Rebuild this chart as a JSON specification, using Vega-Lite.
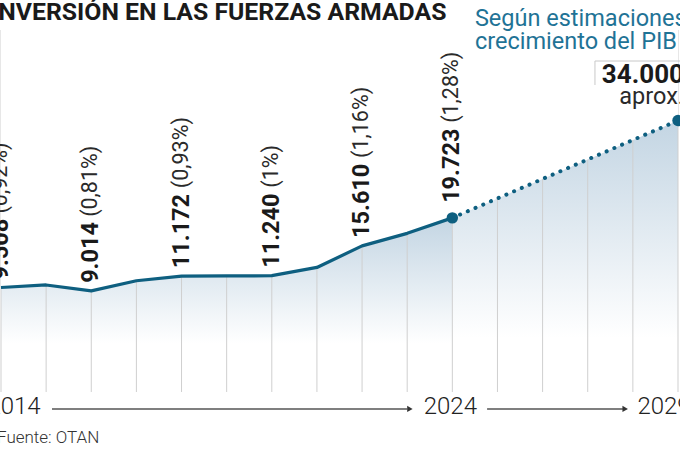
{
  "$schema": "https://vega.github.io/schema/vega-lite/v6.json",
  "width": 677,
  "height": 420,
  "autosize": {"type": "none"},
  "padding": {"left": 1, "top": 30, "right": 2, "bottom": 0},
  "background": "#ffffff",
  "config": {"view": {"stroke": null}, "text": {"font": "Roboto"}},
  "datasets": {
    "series": [
      {"year": 2014, "value": 9508, "num": "9.508", "pct": "(0,92%)"},
      {"year": 2015, "value": 9880},
      {"year": 2016, "value": 9014, "num": "9.014", "pct": "(0,81%)"},
      {"year": 2017, "value": 10500},
      {"year": 2018, "value": 11172, "num": "11.172", "pct": "(0,93%)"},
      {"year": 2019, "value": 11200},
      {"year": 2020, "value": 11240, "num": "11.240", "pct": "(1%)"},
      {"year": 2021, "value": 12450},
      {"year": 2022, "value": 15610, "num": "15.610", "pct": "(1,16%)"},
      {"year": 2023, "value": 17450},
      {"year": 2024, "value": 19723, "num": "19.723", "pct": "(1,28%)"},
      {"year": 2029, "value": 34000}
    ],
    "grid": [
      {"year": 2014}, {"year": 2015}, {"year": 2016}, {"year": 2017},
      {"year": 2018}, {"year": 2019}, {"year": 2020}, {"year": 2021},
      {"year": 2022}, {"year": 2023}, {"year": 2024}, {"year": 2025},
      {"year": 2026}, {"year": 2027}, {"year": 2028}, {"year": 2029}
    ],
    "one": [{}]
  },
  "layer": [
    {
      "data": {"name": "series"},
      "transform": [{"filter": "datum.year <= 2024"}],
      "mark": {"type": "area", "fill": {"gradient": "linear", "x1": 0, "y1": 0, "x2": 0, "y2": 1, "stops": [{"offset": 0, "color": "#c3d5e3"}, {"offset": 0.72, "color": "#ffffff"}]}, "opacity": 1},
      "encoding": {
        "x": {"field": "year", "type": "quantitative", "scale": {"domain": [2014, 2029], "nice": false, "zero": false}, "axis": null},
        "y": {"field": "value", "type": "quantitative", "scale": {"domain": [-14331, 47283], "nice": false, "zero": false}, "axis": null},
        "y2": {"datum": -5822}
      }
    },
    {
      "data": {"name": "series"},
      "transform": [{"filter": "datum.year >= 2024"}],
      "mark": {"type": "area", "fill": {"gradient": "linear", "x1": 0, "y1": 0, "x2": 0, "y2": 1, "stops": [{"offset": 0, "color": "#c3d5e3"}, {"offset": 0.8, "color": "#ffffff"}]}, "opacity": 1},
      "encoding": {
        "x": {"field": "year", "type": "quantitative", "scale": {"domain": [2014, 2029], "nice": false, "zero": false}, "axis": null},
        "y": {"field": "value", "type": "quantitative", "scale": {"domain": [-14331, 47283], "nice": false, "zero": false}, "axis": null},
        "y2": {"datum": -5822}
      }
    },
    {
      "data": {"name": "grid"},
      "mark": {"type": "rule", "color": "#cfcfcf", "strokeWidth": 1},
      "encoding": {
        "x": {"field": "year", "type": "quantitative", "scale": {"domain": [2014, 2029], "nice": false, "zero": false}, "axis": null},
        "y": {"datum": -5822, "type": "quantitative", "scale": {"domain": [-14331, 47283], "nice": false, "zero": false}, "axis": null},
        "y2": {"datum": 47283}
      }
    },
    {
      "data": {"name": "series"},
      "mark": {"type": "area", "color": "#ffffff", "opacity": 1},
      "encoding": {
        "x": {"field": "year", "type": "quantitative", "scale": {"domain": [2014, 2029], "nice": false, "zero": false}, "axis": null},
        "y": {"field": "value", "type": "quantitative", "scale": {"domain": [-14331, 47283], "nice": false, "zero": false}, "axis": null},
        "y2": {"datum": 47283}
      }
    },
    {
      "data": {"name": "series"},
      "transform": [{"filter": "datum.year <= 2024"}],
      "mark": {"type": "line", "color": "#0e5f80", "strokeWidth": 3.2, "strokeJoin": "round"},
      "encoding": {
        "x": {"field": "year", "type": "quantitative", "scale": {"domain": [2014, 2029], "nice": false, "zero": false}, "axis": null},
        "y": {"field": "value", "type": "quantitative", "scale": {"domain": [-14331, 47283], "nice": false, "zero": false}, "axis": null}
      }
    },
    {
      "data": {"name": "series"},
      "transform": [{"filter": "datum.year >= 2024"}],
      "mark": {"type": "line", "color": "#0e5f80", "strokeWidth": 4, "strokeCap": "round", "strokeDash": [0.1, 8.3]},
      "encoding": {
        "x": {"field": "year", "type": "quantitative", "scale": {"domain": [2014, 2029], "nice": false, "zero": false}, "axis": null},
        "y": {"field": "value", "type": "quantitative", "scale": {"domain": [-14331, 47283], "nice": false, "zero": false}, "axis": null}
      }
    },
    {
      "data": {"name": "series"},
      "transform": [{"filter": "datum.year >= 2024"}],
      "mark": {"type": "point", "filled": true, "shape": "circle", "size": 130, "color": "#0e5f80", "opacity": 1},
      "encoding": {
        "x": {"field": "year", "type": "quantitative", "scale": {"domain": [2014, 2029], "nice": false, "zero": false}, "axis": null},
        "y": {"field": "value", "type": "quantitative", "scale": {"domain": [-14331, 47283], "nice": false, "zero": false}, "axis": null}
      }
    },
    {
      "data": {"name": "series"},
      "transform": [{"filter": "datum.num != null && datum.year != 2024"}],
      "mark": {"type": "text", "angle": 270, "align": "left", "baseline": "middle", "dx": 8, "font": "Roboto", "fontSize": 23.5, "fontWeight": 700, "color": "#1a1a1a"},
      "encoding": {
        "x": {"field": "year", "type": "quantitative", "scale": {"domain": [2014, 2029], "nice": false, "zero": false}, "axis": null},
        "y": {"field": "value", "type": "quantitative", "scale": {"domain": [-14331, 47283], "nice": false, "zero": false}, "axis": null},
        "text": {"field": "num"}
      }
    },
    {
      "data": {"name": "series"},
      "transform": [{"filter": "datum.year == 2024"}],
      "mark": {"type": "text", "angle": 270, "align": "left", "baseline": "middle", "dx": 15, "font": "Roboto", "fontSize": 23.5, "fontWeight": 700, "color": "#1a1a1a"},
      "encoding": {
        "x": {"field": "year", "type": "quantitative", "scale": {"domain": [2014, 2029], "nice": false, "zero": false}, "axis": null},
        "y": {"field": "value", "type": "quantitative", "scale": {"domain": [-14331, 47283], "nice": false, "zero": false}, "axis": null},
        "text": {"field": "num"}
      }
    },
    {
      "data": {"name": "series"},
      "transform": [{"filter": "datum.num != null && datum.value < 10000"}],
      "mark": {"type": "text", "angle": 270, "align": "left", "baseline": "middle", "dx": 74, "font": "Roboto", "fontSize": 21.5, "fontWeight": 400, "color": "#2a2a2a"},
      "encoding": {
        "x": {"field": "year", "type": "quantitative", "scale": {"domain": [2014, 2029], "nice": false, "zero": false}, "axis": null},
        "y": {"field": "value", "type": "quantitative", "scale": {"domain": [-14331, 47283], "nice": false, "zero": false}, "axis": null},
        "text": {"field": "pct"}
      }
    },
    {
      "data": {"name": "series"},
      "transform": [{"filter": "datum.num != null && datum.value >= 10000 && datum.year != 2024"}],
      "mark": {"type": "text", "angle": 270, "align": "left", "baseline": "middle", "dx": 88, "font": "Roboto", "fontSize": 21.5, "fontWeight": 400, "color": "#2a2a2a"},
      "encoding": {
        "x": {"field": "year", "type": "quantitative", "scale": {"domain": [2014, 2029], "nice": false, "zero": false}, "axis": null},
        "y": {"field": "value", "type": "quantitative", "scale": {"domain": [-14331, 47283], "nice": false, "zero": false}, "axis": null},
        "text": {"field": "pct"}
      }
    },
    {
      "data": {"name": "series"},
      "transform": [{"filter": "datum.year == 2024"}],
      "mark": {"type": "text", "angle": 270, "align": "left", "baseline": "middle", "dx": 95, "font": "Roboto", "fontSize": 21.5, "fontWeight": 400, "color": "#2a2a2a"},
      "encoding": {
        "x": {"field": "year", "type": "quantitative", "scale": {"domain": [2014, 2029], "nice": false, "zero": false}, "axis": null},
        "y": {"field": "value", "type": "quantitative", "scale": {"domain": [-14331, 47283], "nice": false, "zero": false}, "axis": null},
        "text": {"field": "pct"}
      }
    },
    {
      "data": {"name": "one"},
      "mark": {"type": "text", "align": "left", "baseline": "middle", "dx": -10, "font": "Roboto", "fontSize": 24.8, "fontWeight": 700, "color": "#1a1a1a"},
      "encoding": {
        "x": {"datum": 2014, "type": "quantitative", "scale": {"domain": [2014, 2029], "nice": false, "zero": false}, "axis": null},
        "y": {"datum": 49778, "type": "quantitative", "scale": {"domain": [-14331, 47283], "nice": false, "zero": false}, "axis": null},
        "text": {"value": "INVERSIÓN EN LAS FUERZAS ARMADAS"}
      }
    },
    {
      "data": {"name": "one"},
      "mark": {"type": "rule", "color": "#c8c8c8", "strokeWidth": 1},
      "encoding": {
        "x": {"datum": 2027.16, "type": "quantitative", "scale": {"domain": [2014, 2029], "nice": false, "zero": false}, "axis": null},
        "y": {"datum": 42735, "type": "quantitative", "scale": {"domain": [-14331, 47283], "nice": false, "zero": false}, "axis": null},
        "y2": {"datum": 39215}
      }
    },
    {
      "data": {"name": "one"},
      "mark": {"type": "rule", "color": "#c8c8c8", "strokeWidth": 1},
      "encoding": {
        "x": {"datum": 2027.16, "type": "quantitative", "scale": {"domain": [2014, 2029], "nice": false, "zero": false}, "axis": null},
        "x2": {"datum": 2029.6},
        "y": {"datum": 42735, "type": "quantitative", "scale": {"domain": [-14331, 47283], "nice": false, "zero": false}, "axis": null}
      }
    },
    {
      "data": {"name": "one"},
      "mark": {"type": "text", "align": "right", "baseline": "middle", "dx": 6, "font": "Roboto", "fontSize": 26, "fontWeight": 700, "color": "#1a1a1a"},
      "encoding": {
        "x": {"datum": 2029, "type": "quantitative", "scale": {"domain": [2014, 2029], "nice": false, "zero": false}, "axis": null},
        "y": {"datum": 40682, "type": "quantitative", "scale": {"domain": [-14331, 47283], "nice": false, "zero": false}, "axis": null},
        "text": {"value": "34.000"}
      }
    },
    {
      "data": {"name": "one"},
      "mark": {"type": "text", "align": "right", "baseline": "middle", "dx": 6, "font": "Roboto", "fontSize": 23.5, "fontWeight": 400, "color": "#2a2a2a"},
      "encoding": {
        "x": {"datum": 2029, "type": "quantitative", "scale": {"domain": [2014, 2029], "nice": false, "zero": false}, "axis": null},
        "y": {"datum": 37455, "type": "quantitative", "scale": {"domain": [-14331, 47283], "nice": false, "zero": false}, "axis": null},
        "text": {"value": "aprox."}
      }
    },
    {
      "data": {"name": "one"},
      "mark": {"type": "text", "align": "left", "baseline": "alphabetic", "lineHeight": 23, "font": "Roboto", "fontSize": 23.5, "fontWeight": 400, "color": "#1f7396"},
      "encoding": {
        "x": {"datum": 2024.5, "type": "quantitative", "scale": {"domain": [2014, 2029], "nice": false, "zero": false}, "axis": null},
        "y": {"datum": 47943, "type": "quantitative", "scale": {"domain": [-14331, 47283], "nice": false, "zero": false}, "axis": null},
        "text": {"value": ["Según estimaciones", "crecimiento del PIB"]}
      }
    },
    {
      "data": {"name": "one"},
      "mark": {"type": "rule", "color": "#555555", "strokeWidth": 1.5},
      "encoding": {
        "x": {"datum": 2015.13, "type": "quantitative", "scale": {"domain": [2014, 2029], "nice": false, "zero": false}, "axis": null},
        "x2": {"datum": 2023.0},
        "y": {"datum": -8300, "type": "quantitative", "scale": {"domain": [-14331, 47283], "nice": false, "zero": false}, "axis": null}
      }
    },
    {
      "data": {"name": "one"},
      "mark": {"type": "rule", "color": "#555555", "strokeWidth": 1.5},
      "encoding": {
        "x": {"datum": 2024.77, "type": "quantitative", "scale": {"domain": [2014, 2029], "nice": false, "zero": false}, "axis": null},
        "x2": {"datum": 2027.78},
        "y": {"datum": -8300, "type": "quantitative", "scale": {"domain": [-14331, 47283], "nice": false, "zero": false}, "axis": null}
      }
    },
    {
      "data": {"name": "one"},
      "mark": {"type": "point", "shape": "triangle-right", "filled": true, "size": 40, "color": "#333333", "opacity": 1},
      "encoding": {
        "x": {"datum": 2023.06, "type": "quantitative", "scale": {"domain": [2014, 2029], "nice": false, "zero": false}, "axis": null},
        "y": {"datum": -8300, "type": "quantitative", "scale": {"domain": [-14331, 47283], "nice": false, "zero": false}, "axis": null}
      }
    },
    {
      "data": {"name": "one"},
      "mark": {"type": "point", "shape": "triangle-right", "filled": true, "size": 40, "color": "#333333", "opacity": 1},
      "encoding": {
        "x": {"datum": 2027.83, "type": "quantitative", "scale": {"domain": [2014, 2029], "nice": false, "zero": false}, "axis": null},
        "y": {"datum": -8300, "type": "quantitative", "scale": {"domain": [-14331, 47283], "nice": false, "zero": false}, "axis": null}
      }
    },
    {
      "data": {"name": "one"},
      "mark": {"type": "text", "align": "center", "baseline": "middle", "dx": 13, "font": "Roboto", "fontSize": 24, "fontWeight": 300, "color": "#222222"},
      "encoding": {
        "x": {"datum": 2014, "type": "quantitative", "scale": {"domain": [2014, 2029], "nice": false, "zero": false}, "axis": null},
        "y": {"datum": -8070, "type": "quantitative", "scale": {"domain": [-14331, 47283], "nice": false, "zero": false}, "axis": null},
        "text": {"value": "2014"}
      }
    },
    {
      "data": {"name": "one"},
      "mark": {"type": "text", "align": "center", "baseline": "middle", "dx": -2, "font": "Roboto", "fontSize": 24, "fontWeight": 300, "color": "#222222"},
      "encoding": {
        "x": {"datum": 2024, "type": "quantitative", "scale": {"domain": [2014, 2029], "nice": false, "zero": false}, "axis": null},
        "y": {"datum": -8070, "type": "quantitative", "scale": {"domain": [-14331, 47283], "nice": false, "zero": false}, "axis": null},
        "text": {"value": "2024"}
      }
    },
    {
      "data": {"name": "one"},
      "mark": {"type": "text", "align": "center", "baseline": "middle", "dx": -14, "font": "Roboto", "fontSize": 24, "fontWeight": 300, "color": "#222222"},
      "encoding": {
        "x": {"datum": 2029, "type": "quantitative", "scale": {"domain": [2014, 2029], "nice": false, "zero": false}, "axis": null},
        "y": {"datum": -8070, "type": "quantitative", "scale": {"domain": [-14331, 47283], "nice": false, "zero": false}, "axis": null},
        "text": {"value": "2029"}
      }
    },
    {
      "data": {"name": "one"},
      "mark": {"type": "text", "align": "left", "baseline": "middle", "dx": -4, "font": "Roboto", "fontSize": 17, "fontWeight": 300, "color": "#333333"},
      "encoding": {
        "x": {"datum": 2014, "type": "quantitative", "scale": {"domain": [2014, 2029], "nice": false, "zero": false}, "axis": null},
        "y": {"datum": -12570, "type": "quantitative", "scale": {"domain": [-14331, 47283], "nice": false, "zero": false}, "axis": null},
        "text": {"value": "Fuente: OTAN"}
      }
    }
  ]
}
